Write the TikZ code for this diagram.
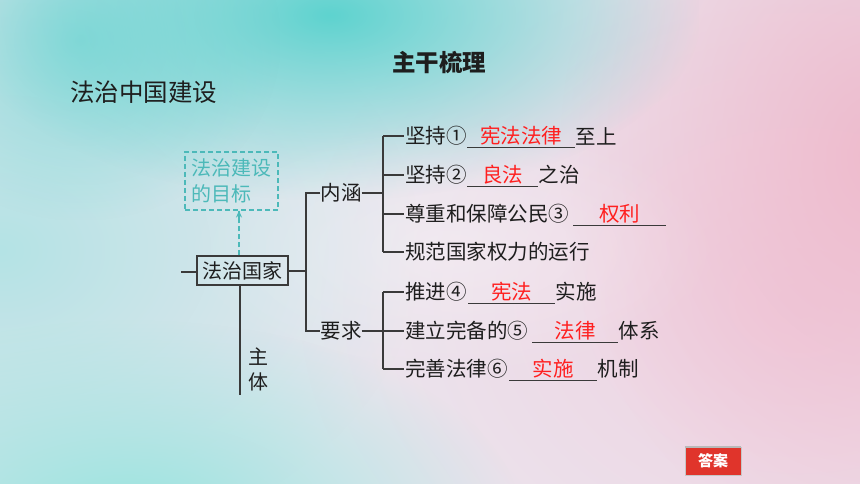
\documentclass[tikz,border=0pt]{standalone}
\usepackage{fontspec}
\setmainfont{Noto Sans CJK SC}
\usetikzlibrary{arrows.meta,fadings,calc}
\definecolor{bgM}{HTML}{EAE7EF}
\definecolor{blobteal}{HTML}{5ED3CF}
\definecolor{blobteal2}{HTML}{B4E3E5}
\definecolor{blobteal3}{HTML}{98E4DF}
\definecolor{blobpink}{HTML}{EEBBCD}
\definecolor{blobpink2}{HTML}{F1D0E0}
\definecolor{linegray}{HTML}{3A3A3A}
\definecolor{textblack}{HTML}{1E1E1E}
\definecolor{ansred}{HTML}{FF2020}
\definecolor{goalteal}{HTML}{4CB9B9}
\definecolor{btnred}{HTML}{E0342B}
\tikzfading[name=softfade, inner color=transparent!0, outer color=transparent!100]
\begin{document}
\begin{tikzpicture}[x=1pt,y=-1pt,
  lin/.style={draw=linegray, line width=1.1pt},
  txt/.style={font=\fontsize{20.5}{24}\selectfont, inner sep=0pt, text=textblack},
  blank/.style={txt, text=ansred, minimum height=22pt, anchor=west},
  item/.style={txt, anchor=west},
  blob/.style={path fading=softfade, fit fading=true},
  dsh/.style={dash pattern=on 5pt off 3pt, line width=1.1pt, draw=goalteal}
]
% background
\useasboundingbox (0,0) rectangle (860,484);
\fill[bgM] (0,0) rectangle (860,484);
\fill[blobpink2, blob] (300,-100) rectangle (1300,700);
\fill[blobpink, blob] (560,-250) rectangle (1200,560);
\fill[blobteal2, blob] (-420,-60) rectangle (420,560);
\fill[blobteal3, blob] (-260,320) rectangle (520,720);
\fill[blobteal, blob] (-40,-170) rectangle (700,200);
\fill[blobteal, blob, opacity=0.6] (-120,-140) rectangle (280,220);
\fill[white, blob, opacity=0.3] (180,120) rectangle (720,380);

% titles
\node[txt, font=\fontsize{23.5}{28}\selectfont\bfseries] (title) at (439,63) {主干梳理};
\node[txt, font=\fontsize{24.5}{28}\selectfont, anchor=west] (sub) at (70,92) {法治中国建设};

% goal box
\node[dsh, minimum width=93pt, minimum height=58pt,
      text=goalteal, font=\fontsize{20}{26}\selectfont, align=left, inner sep=0pt,
      text width=80pt] (goal) at (231.5,181) {法治建设\\的目标};

% main node
\node[draw=linegray, line width=1.1pt, txt, minimum width=91pt, minimum height=29pt, font=\fontsize{20}{24}\selectfont] (fz) at (242.5,270.5) {法治国家};
\coordinate (lstub) at (181,272);
\draw[lin] (lstub) -- (lstub -| fz.west);
\coordinate (tipend) at ([xshift=-3.5pt]fz.north |- goal.south);
\draw[dsh] ([xshift=-3.5pt]fz.north) -- (tipend);
\draw[goalteal, line width=1.1pt, -{Stealth[length=7pt,width=6pt]}] ([yshift=-8pt]tipend) -- (tipend);
\coordinate (zt) at (240,395);
\draw[lin] (zt |- fz.south) -- (zt);
\node[txt, align=center, font=\fontsize{20}{25}\selectfont] (zhuti) at (258,369) {主\\体};

% level 2
\node[txt] (nh) at (341,193) {内涵};
\node[txt] (yq) at (341,331) {要求};
\coordinate (j0) at (306,271);
\draw[lin] (fz.east |- j0) -- (j0);
\draw[lin] (nh.west) -| (j0 |- nh.west) -- (j0 |- yq.west) -- (yq.west);
\coordinate (ja) at (383,193);
\coordinate (jb) at (383,331);
\draw[lin] (nh.east) -- (ja);
\draw[lin] (yq.east) -- (jb);

% items group A
\node[item] (p1) at (405,136) {坚持①};
\node[blank, minimum width=108pt] (b1) at (467,136) {宪法法律};
\node[item] (s1) at (b1.east) {至上};
\node[item] (p2) at (405,175) {坚持②};
\node[blank, minimum width=71pt] (b2) at (467,175) {良法};
\node[item] (s2) at (b2.east) {之治};
\node[item] (p3) at (405,214) {尊重和保障公民③};
\node[blank, minimum width=93pt] (b3) at (573,214) {权利};
\node[item] (p4) at (405,252) {规范国家权力的运行};
\draw[lin] (ja |- p1.west) -- (ja |- p4.west);
\foreach \i in {1,2,3,4} \draw[lin] (ja |- p\i.west) -- ([xshift=-1pt]p\i.west);
\foreach \i in {1,2,3} \draw[lin] (b\i.south west) -- (b\i.south east);

% items group B
\node[item] (p5) at (405,292) {推进④};
\node[blank, minimum width=87pt] (b5) at (468,292) {宪法};
\node[item] (s5) at (b5.east) {实施};
\node[item] (p6) at (405,331) {建立完备的⑤};
\node[blank, minimum width=86pt] (b6) at (532,331) {法律};
\node[item] (s6) at (b6.east) {体系};
\node[item] (p7) at (405,369) {完善法律⑥};
\node[blank, minimum width=88pt] (b7) at (509,369) {实施};
\node[item] (s7) at (b7.east) {机制};
\draw[lin] (jb |- p5.west) -- (jb |- p7.west);
\foreach \i in {5,6,7} \draw[lin] (jb |- p\i.west) -- ([xshift=-1pt]p\i.west);
\foreach \i in {5,6,7} \draw[lin] (b\i.south west) -- (b\i.south east);

% answer button
\node[fill=btnred, draw=gray!45, line width=0.8pt, minimum width=56pt, minimum height=28pt,
      text=white, font=\fontsize{15}{18}\selectfont\bfseries, inner sep=0pt] (btn) at (713,461) {答案};
\draw[gray!55, line width=2pt] (btn.north west) -- (btn.north east);
\end{tikzpicture}
\end{document}
